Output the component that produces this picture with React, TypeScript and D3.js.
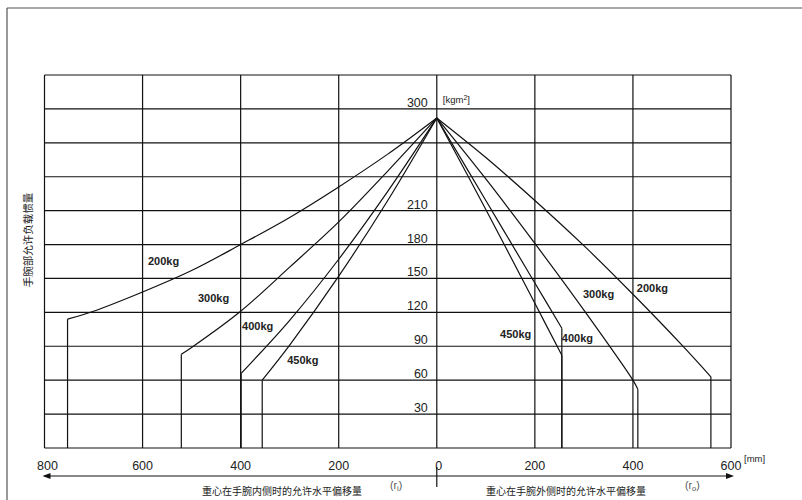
import React from "react";
import * as d3 from "d3";

// ---- data (mm offset, allowable inertia kgm²) ----
const xTickValues = [-800, -600, -400, -200, 0, 200, 400, 600];
const yGridValues = [0, 30, 60, 90, 120, 150, 180, 210, 240, 270, 300, 330];
const yTickLabels = [30, 60, 90, 120, 150, 180, 210, 300];

const load200Left: [number, number][] = [[0, 292], [-100, 260], [-200, 231], [-300, 204], [-400, 180], [-500, 157], [-600, 138], [-700, 121], [-753, 114]];
const load300Left: [number, number][] = [[0, 292], [-100, 245], [-200, 200], [-300, 160], [-400, 121], [-500, 89], [-521, 83]];
const load400Left: [number, number][] = [[0, 292], [-100, 227], [-200, 167], [-300, 113], [-399, 66]];
const load450Left: [number, number][] = [[0, 292], [-100, 219], [-200, 152], [-300, 91], [-356, 60]];
const load450Right: [number, number][] = [[0, 292], [100, 211], [200, 128], [255, 82]];
const load400Right: [number, number][] = [[0, 292], [100, 219], [200, 146], [255, 106]];
const load300Right: [number, number][] = [[0, 292], [100, 238], [200, 181], [300, 122], [400, 60], [410, 52]];
const load200Right: [number, number][] = [[0, 292], [100, 257], [200, 219], [300, 179], [400, 136], [500, 91], [559, 63]];

const seriesNames = ["200kg", "300kg", "400kg", "450kg", "450kg", "400kg", "300kg", "200kg"];
const seriesData = [load200Left, load300Left, load400Left, load450Left, load450Right, load400Right, load300Right, load200Right];
// label anchors in data units (mm, value)
const labelAnchors: [number, number][] = [[-589, 162], [-487, 129], [-397, 104], [-305, 74], [129, 97], [255, 94], [298, 133], [408, 138]];

const W = 802, H = 500;

export default function App() {
  const x = d3.scaleLinear().domain([-800, 600]).range([44.5, 731]);
  const y = d3.scaleLinear().domain([0, 330]).range([448, 75]);
  const line = d3
    .line<[number, number]>()
    .x((d) => x(d[0]))
    .y((d) => y(d[1]))
    .curve(d3.curveCatmullRom.alpha(0.5));

  const font = "'Liberation Sans', Arial, sans-serif";
  const cjk = "'Noto Sans CJK SC', sans-serif";
  const ink = "#111";
  const arrowY = 476;
  const x0 = x(0);

  return (
    <svg width={W} height={H} style={{ position: "fixed", left: 0, top: 0, background: "#fff" }}>
      <rect width={W} height={H} fill="#fff" />
      {/* outer frame */}
      <line x1={7} y1={8} x2={W} y2={8} stroke="#555" strokeWidth={1.2} />
      <line x1={7} y1={8} x2={7} y2={H} stroke="#555" strokeWidth={1.2} />

      {/* grid */}
      {yGridValues.map((v) => (
        <line key={"h" + v} x1={x(-800)} x2={x(600)} y1={y(v)} y2={y(v)} stroke={ink} strokeWidth={1.2} />
      ))}
      {xTickValues.map((v) => (
        <line key={"v" + v} x1={x(v)} x2={x(v)} y1={y(330)} y2={y(0)} stroke={ink} strokeWidth={1.2} />
      ))}

      {/* curves */}
      {seriesData.map((pts, i) => {
        const last = pts[pts.length - 1];
        return (
          <g key={"s" + i}>
            <path d={line(pts) || ""} fill="none" stroke={ink} strokeWidth={1.2} />
            <line x1={x(last[0])} x2={x(last[0])} y1={y(last[1])} y2={y(0)} stroke={ink} strokeWidth={1.2} />
          </g>
        );
      })}

      {/* curve labels */}
      {seriesNames.map((n, i) => (
        <text key={"l" + i} x={x(labelAnchors[i][0])} y={y(labelAnchors[i][1])} fontFamily={font} fontSize={11} fontWeight="bold" fill="#222">
          {n}
        </text>
      ))}

      {/* y tick labels */}
      {yTickLabels.map((v) => (
        <text key={"yt" + v} x={x0 - 9} y={y(v) - 2} textAnchor="end" fontFamily={font} fontSize={12.5} fill="#222">
          {v}
        </text>
      ))}
      <text x={x0 + 6} y={y(300) - 6} fontFamily={font} fontSize={9.5} fill="#222">
        [kgm<tspan dy={-3} fontSize={7}>2</tspan><tspan dy={3}>]</tspan>
      </text>

      {/* x tick labels */}
      {xTickValues.map((v) => (
        <text key={"xt" + v} x={x(v) + (v === 0 ? 2 : v === -800 ? 3 : 0)} y={470} textAnchor="middle" fontFamily={font} fontSize={12.5} fill="#222">
          {Math.abs(v)}
        </text>
      ))}
      <text x={744} y={462} fontFamily={font} fontSize={9.5} fill="#222">[mm]</text>

      {/* arrow axis */}
      <line x1={x(-800)} x2={x(600) + 1} y1={arrowY} y2={arrowY} stroke={ink} strokeWidth={1} />
      <path d={`M${x(-800) - 2},${arrowY} l8,-3 l0,6 z`} fill={ink} />
      <path d={`M${x(600) + 3},${arrowY} l-8,-3 l0,6 z`} fill={ink} />
      <line x1={x0} x2={x0} y1={467} y2={487} stroke={ink} strokeWidth={1.2} />

      {/* axis titles */}
      <text x={282} y={495} textAnchor="middle" fontFamily={cjk} fontSize={10} fill="#222">重心在手腕内侧时的允许水平偏移量</text>
      <text x={390} y={489} fontFamily={font} fontSize={10.5} fill="#555">(r<tspan dy={2} fontSize={7.5}>i</tspan><tspan dy={-2}>)</tspan></text>
      <text x={566} y={495} textAnchor="middle" fontFamily={cjk} fontSize={10} fill="#222">重心在手腕外侧时的允许水平偏移量</text>
      <text x={685} y={489} fontFamily={font} fontSize={10.5} fill="#555">(r<tspan dy={2} fontSize={7.5}>o</tspan><tspan dy={-2}>)</tspan></text>

      <text transform={`translate(32,240) rotate(-90)`} textAnchor="middle" fontFamily={cjk} fontSize={10.5} fill="#222">手腕部允许负载惯量</text>
    </svg>
  );
}
